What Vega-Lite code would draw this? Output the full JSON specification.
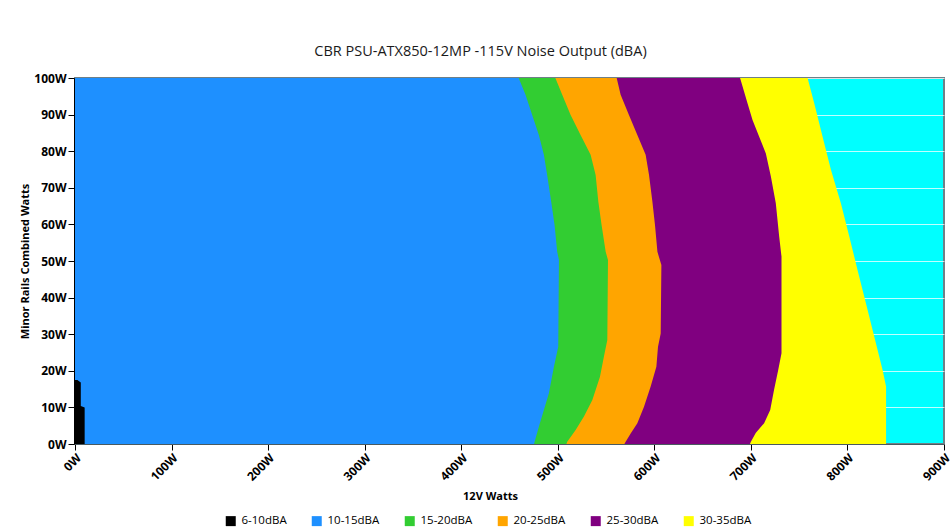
{
  "$schema": "https://vega.github.io/schema/vega-lite/v6.json",
  "width": 869,
  "height": 366,
  "autosize": {"type": "none"},
  "padding": {"left": 75, "top": 78, "right": 6, "bottom": 86},
  "background": "white",
  "title": {
    "text": "CBR PSU-ATX850-12MP -115V Noise Output (dBA)",
    "font": "Open Sans",
    "fontSize": 14.5,
    "fontWeight": "normal",
    "color": "#1a1a1a",
    "anchor": "middle",
    "dx": -29,
    "offset": 13
  },
  "config": {
    "view": {"fill": "#00FFFF", "stroke": "#6f8087", "strokeWidth": 2},
    "axis": {
      "labelFont": "Open Sans",
      "labelFontWeight": "bold",
      "labelFontSize": 12,
      "labelColor": "#000000",
      "titleFont": "Open Sans",
      "titleFontWeight": "bold",
      "titleFontSize": 11,
      "titleColor": "#000000",
      "tickColor": "#000000",
      "domainColor": "#000000"
    }
  },
  "data": {
    "values": [
      {"band": "30-35dBA", "y": 0, "x": 840},
      {"band": "30-35dBA", "y": 15.7, "x": 840},
      {"band": "30-35dBA", "y": 20.2, "x": 836.4},
      {"band": "30-35dBA", "y": 29.3, "x": 827.8},
      {"band": "30-35dBA", "y": 38.4, "x": 819.2},
      {"band": "30-35dBA", "y": 47.5, "x": 810.5},
      {"band": "30-35dBA", "y": 56.7, "x": 801.9},
      {"band": "30-35dBA", "y": 65.8, "x": 793.2},
      {"band": "30-35dBA", "y": 74.9, "x": 782.9},
      {"band": "30-35dBA", "y": 84, "x": 774.2},
      {"band": "30-35dBA", "y": 93.1, "x": 765.6},
      {"band": "30-35dBA", "y": 100, "x": 758.7},

      {"band": "25-30dBA", "y": 0, "x": 699},
      {"band": "25-30dBA", "y": 0.6, "x": 700},
      {"band": "25-30dBA", "y": 3, "x": 705},
      {"band": "25-30dBA", "y": 5.7, "x": 713.7},
      {"band": "25-30dBA", "y": 9.3, "x": 720},
      {"band": "25-30dBA", "y": 14.8, "x": 724},
      {"band": "25-30dBA", "y": 20.2, "x": 728.3},
      {"band": "25-30dBA", "y": 24.8, "x": 731.7},
      {"band": "25-30dBA", "y": 51.2, "x": 731.7},
      {"band": "25-30dBA", "y": 56.7, "x": 729.3},
      {"band": "25-30dBA", "y": 65.8, "x": 725.8},
      {"band": "25-30dBA", "y": 73.1, "x": 720.7},
      {"band": "25-30dBA", "y": 79.4, "x": 715.5},
      {"band": "25-30dBA", "y": 84, "x": 708.5},
      {"band": "25-30dBA", "y": 88.5, "x": 701.7},
      {"band": "25-30dBA", "y": 93.1, "x": 696.5},
      {"band": "25-30dBA", "y": 100, "x": 688.8},

      {"band": "20-25dBA", "y": 0, "x": 569},
      {"band": "20-25dBA", "y": 0.6, "x": 570.3},
      {"band": "20-25dBA", "y": 2.9, "x": 575.5},
      {"band": "20-25dBA", "y": 5.7, "x": 582.4},
      {"band": "20-25dBA", "y": 10.2, "x": 589.3},
      {"band": "20-25dBA", "y": 15.7, "x": 596.2},
      {"band": "20-25dBA", "y": 21.1, "x": 602.1},
      {"band": "20-25dBA", "y": 26.6, "x": 603.8},
      {"band": "20-25dBA", "y": 30.2, "x": 606.6},
      {"band": "20-25dBA", "y": 48.9, "x": 607.3},
      {"band": "20-25dBA", "y": 52.5, "x": 603.2},
      {"band": "20-25dBA", "y": 59.8, "x": 600.7},
      {"band": "20-25dBA", "y": 66.2, "x": 598},
      {"band": "20-25dBA", "y": 73.5, "x": 594.5},
      {"band": "20-25dBA", "y": 79, "x": 591},
      {"band": "20-25dBA", "y": 84.4, "x": 582.4},
      {"band": "20-25dBA", "y": 89.9, "x": 573.7},
      {"band": "20-25dBA", "y": 95.4, "x": 565.1},
      {"band": "20-25dBA", "y": 100, "x": 561},

      {"band": "15-20dBA", "y": 0, "x": 509},
      {"band": "15-20dBA", "y": 0.6, "x": 509.8},
      {"band": "15-20dBA", "y": 3.8, "x": 518.5},
      {"band": "15-20dBA", "y": 7.5, "x": 527.1},
      {"band": "15-20dBA", "y": 12, "x": 535.8},
      {"band": "15-20dBA", "y": 18.4, "x": 543.7},
      {"band": "15-20dBA", "y": 23.9, "x": 547.8},
      {"band": "15-20dBA", "y": 28.4, "x": 551.3},
      {"band": "15-20dBA", "y": 50.3, "x": 552},
      {"band": "15-20dBA", "y": 52.5, "x": 549.6},
      {"band": "15-20dBA", "y": 59.8, "x": 545.4},
      {"band": "15-20dBA", "y": 66.2, "x": 542},
      {"band": "15-20dBA", "y": 73.5, "x": 539.2},
      {"band": "15-20dBA", "y": 79, "x": 534},
      {"band": "15-20dBA", "y": 84.4, "x": 523.6},
      {"band": "15-20dBA", "y": 89.9, "x": 513.3},
      {"band": "15-20dBA", "y": 95.4, "x": 504.6},
      {"band": "15-20dBA", "y": 100, "x": 497.5},

      {"band": "10-15dBA", "y": 0, "x": 475.5},
      {"band": "10-15dBA", "y": 0.6, "x": 476},
      {"band": "10-15dBA", "y": 4.7, "x": 480.4},
      {"band": "10-15dBA", "y": 9.3, "x": 485.6},
      {"band": "10-15dBA", "y": 13.9, "x": 490.8},
      {"band": "10-15dBA", "y": 21.1, "x": 496},
      {"band": "10-15dBA", "y": 26.6, "x": 500.5},
      {"band": "10-15dBA", "y": 50.3, "x": 501.2},
      {"band": "10-15dBA", "y": 52.5, "x": 499.4},
      {"band": "10-15dBA", "y": 59.8, "x": 496.7},
      {"band": "10-15dBA", "y": 66.2, "x": 493.2},
      {"band": "10-15dBA", "y": 73.5, "x": 489},
      {"band": "10-15dBA", "y": 79, "x": 485.6},
      {"band": "10-15dBA", "y": 84.4, "x": 480.4},
      {"band": "10-15dBA", "y": 89.9, "x": 473.5},
      {"band": "10-15dBA", "y": 95.4, "x": 466.6},
      {"band": "10-15dBA", "y": 100, "x": 459.5},

      {"band": "6-10dBA", "y": 0, "x": 10},
      {"band": "6-10dBA", "y": 10, "x": 10},
      {"band": "6-10dBA", "y": 10.4, "x": 6},
      {"band": "6-10dBA", "y": 16.8, "x": 6},
      {"band": "6-10dBA", "y": 17.5, "x": 2.5}
    ]
  },
  "encoding": {
    "y": {
      "field": "y",
      "type": "quantitative",
      "scale": {"domain": [0, 100], "nice": false},
      "axis": {
        "title": "Minor Rails Combined Watts",
        "values": [0, 10, 20, 30, 40, 50, 60, 70, 80, 90, 100],
        "labelExpr": "datum.value + 'W'",
        "grid": true,
        "gridColor": "#ffffff",
        "gridOpacity": 0.75,
        "gridWidth": 1,
        "tickSize": 6,
        "labelPadding": 2,
        "offset": 1,
        "titlePadding": 3
      }
    },
    "x": {
      "field": "x",
      "type": "quantitative",
      "stack": null,
      "scale": {"domain": [0, 900], "nice": false},
      "axis": {
        "title": "12V Watts",
        "values": [0, 100, 200, 300, 400, 500, 600, 700, 800, 900],
        "labelExpr": "datum.value + 'W'",
        "labelAngle": -45,
        "grid": false,
        "tickSize": 6,
        "domainColor": "#4a5a60",
        "titleX": 415,
        "titleY": 52,
        "titleBaseline": "middle"
      }
    },
    "color": {
      "field": "band",
      "type": "nominal",
      "scale": {
        "domain": ["6-10dBA", "10-15dBA", "15-20dBA", "20-25dBA", "25-30dBA", "30-35dBA"],
        "range": ["#000000", "#1E90FF", "#32CD32", "#FFA500", "#800080", "#FFFF00"]
      },
      "legend": {
        "title": null,
        "orient": "none",
        "direction": "horizontal",
        "legendX": 150,
        "legendY": 437,
        "symbolType": "square",
        "symbolSize": 100,
        "symbolStrokeWidth": 0,
        "symbolOpacity": 1,
        "labelFont": "Open Sans",
        "labelFontSize": 11.5,
        "labelColor": "#000000",
        "columnPadding": 24,
        "labelOffset": 5
      }
    }
  },
  "layer": [
    {"transform": [{"filter": "datum.band == '30-35dBA'"}], "mark": {"type": "area", "orient": "horizontal", "opacity": 1}},
    {"transform": [{"filter": "datum.band == '25-30dBA'"}], "mark": {"type": "area", "orient": "horizontal", "opacity": 1}},
    {"transform": [{"filter": "datum.band == '20-25dBA'"}], "mark": {"type": "area", "orient": "horizontal", "opacity": 1}},
    {"transform": [{"filter": "datum.band == '15-20dBA'"}], "mark": {"type": "area", "orient": "horizontal", "opacity": 1}},
    {"transform": [{"filter": "datum.band == '10-15dBA'"}], "mark": {"type": "area", "orient": "horizontal", "opacity": 1}},
    {"transform": [{"filter": "datum.band == '6-10dBA'"}], "mark": {"type": "area", "orient": "horizontal", "opacity": 1}}
  ]
}
